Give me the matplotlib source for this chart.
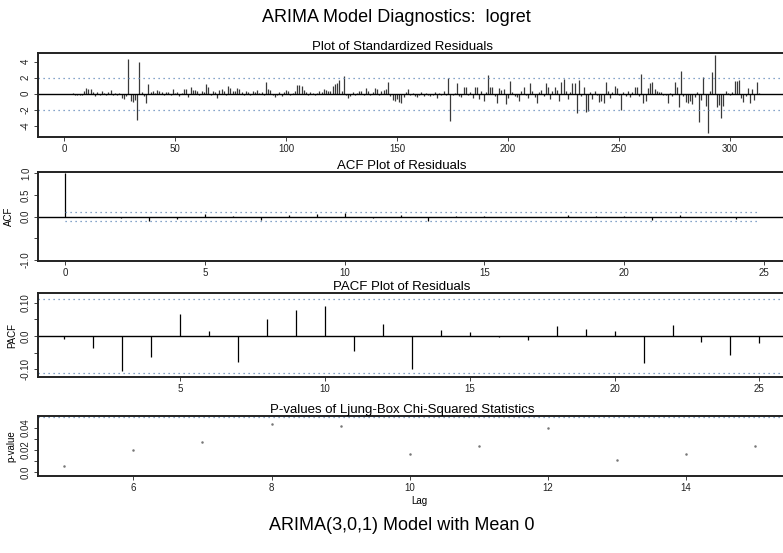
""" ARIMA model diagnostics plot (S-PLUS style)
"""
import matplotlib
matplotlib.use("Agg")
import matplotlib.pyplot as plt
import numpy as np

# standardized residuals, observations 4..313
resid_start = 4
residuals = [
    0.1, -0.1, -0.2, -0.15, -0.2, 0.35, 0.7, 0.65, 0.55, 0.2,
    -0.3, 0.25, -0.2, 0.3, 0.15, -0.1, 0.25, 0.5, -0.15, 0.1,
    -0.2, 0.15, -0.5, -0.7, -0.3, 4.3, -0.9, -1.0, -0.8, -3.3,
    4.0, 0.2, -0.3, -1.2, 1.2, 0.2, 0.3, 0.15, 0.5, 0.35,
    0.2, -0.1, 0.25, 0.2, -0.2, 0.6, 0.1, 0.2, -0.3, 0.15,
    0.6, 0.55, -0.4, 0.8, 0.45, 0.5, 0.3, -0.1, 0.35, 0.2,
    1.2, 0.8, -0.2, 0.35, 0.2, -0.5, 0.5, 0.55, 0.3, -0.2,
    1.0, 0.7, 0.4, 0.3, 0.7, 0.6, 0.2, -0.1, 0.3, 0.2,
    -0.2, 0.3, 0.2, 0.5, 0.15, 0.2, -0.1, 1.45, 0.6, 0.5,
    -0.2, -0.35, -0.1, 0.2, -0.3, 0.25, 0.5, 0.3, -0.2, 0.1,
    0.3, 1.1, 1.05, 1.0, 0.5, 0.2, -0.1, 0.2, 0.15, -0.1,
    0.1, 0.3, 0.2, 0.6, 0.5, 0.4, 0.3, 1.0, 1.2, 1.4,
    1.7, 0.4, 2.25, -0.2, -0.5, -0.3, 0.2, -0.2, 0.15, 0.3,
    0.3, -0.1, 0.7, 0.3, -0.1, 0.2, 0.75, 0.6, -0.2, 0.3,
    0.5, 0.6, 1.45, -0.3, -0.8, -0.9, -0.7, -1.0, -1.1, -0.4,
    0.2, 0.55, -0.2, 0.15, -0.3, -0.35, -0.1, 0.2, -0.3, 0.1,
    -0.2, -0.3, -0.15, 0.2, -0.5, 0.1, -0.2, 0.3, -0.1, 2.0,
    -3.45, -0.2, 0.1, 1.4, -0.3, -0.4, 0.8, 0.85, -0.2, 0.2,
    -0.5, 0.9, 0.9, -0.7, 0.3, -0.9, 0.2, 2.3, 0.9, 0.8,
    -0.3, -1.1, 0.7, 0.5, 0.6, -1.3, -0.5, 1.6, 0.2, -0.3,
    -0.4, -0.9, 0.3, 0.9, -0.2, -0.5, 1.3, 0.3, -0.4, -1.1,
    0.2, 0.5, -0.3, 1.4, 0.9, -0.7, 0.3, 0.8, 0.5, -0.9,
    1.5, 1.9, 0.3, -0.7, 0.2, 1.3, 1.4, -2.4, 1.7, -0.3,
    0.9, -2.3, -2.2, 0.2, -0.7, 0.3, -0.2, -1.0, -0.9, -1.1,
    1.5, 0.3, -0.5, 0.2, 1.0, 0.7, -0.2, -2.0, 0.2, -0.3,
    0.4, -0.4, 0.2, 0.9, 0.8, -0.3, 2.45, -1.2, -0.9, 0.7,
    1.4, 1.5, 0.6, 0.3, 0.2, 0.25, -0.1, -0.2, -1.1, 0.1,
    -0.3, 1.5, 0.9, -1.6, 2.9, -0.3, -1.0, -1.2, -0.9, -1.3,
    -0.4, 0.2, -3.5, -0.8, 2.1, -1.5, -4.9, 0.3, 2.7, 4.8,
    -1.7, -1.4, -3.0, -1.5, 0.3, 0.1, -0.2, 0.2, 1.6, 1.6,
    1.7, -0.5, -1.0, -0.3, 0.7, -1.1, 0.6, -0.8, 1.5, 0.1,
]
resid_ticks = [0, 50, 100, 150, 200, 250, 300]
resid_yticks = [-4, -2, 0, 2, 4]

# ACF of residuals, lags 0..25
acf_lags = list(range(0, 26))
acf_vals = [1.0, -0.006, -0.032, -0.1, -0.062, 0.06, 0.012, -0.072, 0.045,
            0.06, 0.08, -0.04, 0.032, -0.1, 0.015, 0.01, -0.004, -0.01,
            0.028, 0.018, 0.012, -0.08, 0.03, -0.016, -0.05, -0.02]
acf_bound = 0.113

# PACF of residuals, lags 1..25
pacf_lags = list(range(1, 26))
pacf_vals = [-0.008, -0.035, -0.105, -0.065, 0.065, 0.015, -0.078, 0.052,
             0.08, 0.092, -0.045, 0.037, -0.1, 0.018, 0.012, -0.004, -0.011,
             0.03, 0.02, 0.015, -0.083, 0.034, -0.018, -0.058, -0.022]
pacf_bound = 0.111

# Ljung-Box p-values, lags 5..15
lb_lags = list(range(5, 16))
lb_pvals = [0.0054, 0.0202, 0.0267, 0.0439, 0.0415, 0.0159, 0.0233, 0.0402,
            0.0109, 0.0167, 0.0237]
lb_level = 0.05

W, H = 783, 553
DOT_COLOR = "#5f86b8"
TITLE_X = (402 - 38) / (800 - 38)
plt.rcParams["font.family"] = ["Liberation Sans", "DejaVu Sans"]

fig = plt.figure(figsize=(W / 100, H / 100), dpi=100)


def px_axes(left, top, right, bottom):
    """ Cria eixos a partir de coordenadas em pixels
    """
    ax = fig.add_axes([left / W, 1 - bottom / H, (right - left) / W, (bottom - top) / H])
    ax.spines["right"].set_visible(False)
    for side in ("top", "left", "bottom"):
        ax.spines[side].set_linewidth(1.4)
        ax.spines[side].set_color("#222222")
    ax.tick_params(direction="out", length=3, width=0.6, labelsize=7,
                   colors="#222222", pad=2)
    return ax


def y_labels(ax, ticks, labels):
    """ Ticks do eixo y com rotulos girados
    """
    ax.set_yticks(ticks)
    ax.set_yticklabels(labels, rotation=90, va="center")


def titulo(ax, texto):
    """ Titulo do painel, centrado como no original
    """
    ax.set_title(texto, fontsize=9.5, pad=2, x=TITLE_X)


fig.text(396 / W, 1 - 18 / H, "ARIMA Model Diagnostics:  logret", ha="center",
         va="center", fontsize=13)

# 1) standardized residuals
ax1 = px_axes(38, 53, 800, 137)
rx = np.arange(resid_start, resid_start + len(residuals))
ax1.vlines(rx, 0, residuals, color="#3a3a3a", linewidth=0.9)
ax1.axhline(0, color="black", linewidth=1.0)
for lev in (2, -2):
    ax1.axhline(lev, color=DOT_COLOR, linestyle=(0, (1, 3)), linewidth=0.9)
ax1.set_xlim(-11.7, 331.5)
ax1.set_ylim(-5.4, 5.1)
ax1.set_xticks(resid_ticks)
y_labels(ax1, resid_yticks, [str(v) for v in resid_yticks])
titulo(ax1, "Plot of Standardized Residuals")

# 2) ACF
ax2 = px_axes(38, 172, 800, 261)
ax2.vlines(acf_lags, 0, acf_vals, color="black", linewidth=0.9)
ax2.axhline(0, color="black", linewidth=1.0)
for lev in (acf_bound, -acf_bound):
    ax2.hlines(lev, 0, 24.8, color=DOT_COLOR, linestyle=(0, (1, 3)), linewidth=0.9)
ax2.set_xlim(-0.98, 26.3)
ax2.set_ylim(-1.03, 1.03)
ax2.set_xticks([0, 5, 10, 15, 20, 25])
y_labels(ax2, [-1.0, -0.5, 0.0, 0.5, 1.0], ["-1.0", "", "0.0", "0.5", "1.0"])
ax2.set_ylabel("ACF", fontsize=7, labelpad=5)
titulo(ax2, "ACF Plot of Residuals")

# 3) PACF
ax3 = px_axes(38, 293, 800, 377)
ax3.vlines(pacf_lags, 0, pacf_vals, color="black", linewidth=0.9)
ax3.axhline(0, color="black", linewidth=1.0)
for lev in (pacf_bound, -pacf_bound):
    ax3.axhline(lev, color=DOT_COLOR, linestyle=(0, (1, 3)), linewidth=0.9)
ax3.set_xlim(0.1, 26.4)
ax3.set_ylim(-0.124, 0.13)
ax3.set_xticks([5, 10, 15, 20, 25])
y_labels(ax3, [-0.1, -0.05, 0.0, 0.05, 0.1], ["-0.10", "", "0.0", "", "0.10"])
ax3.set_ylabel("PACF", fontsize=7, labelpad=3)
titulo(ax3, "PACF Plot of Residuals")

# 4) Ljung-Box p-values
ax4 = px_axes(38, 416, 800, 476)
ax4.plot(lb_lags, lb_pvals, linestyle="none", marker="o", markersize=0.8,
         color="#777777")
ax4.axhline(lb_level, color=DOT_COLOR, linestyle=(0, (1, 3)), linewidth=0.9)
ax4.set_xlim(4.62, 15.65)
ax4.set_ylim(-0.0037, 0.0507)
ax4.set_xticks([6, 8, 10, 12, 14])
y_labels(ax4, [0.0, 0.01, 0.02, 0.03, 0.04], ["0.0", "", "0.02", "", "0.04"])
ax4.set_ylabel("p-value", fontsize=7, labelpad=3)
ax4.set_xlabel("Lag", fontsize=7, labelpad=2)
titulo(ax4, "P-values of Ljung-Box Chi-Squared Statistics")

fig.text(402 / W, 1 - 526 / H, "ARIMA(3,0,1) Model with Mean 0", ha="center",
         va="center", fontsize=13)

fig.savefig("out.png", dpi=100)
